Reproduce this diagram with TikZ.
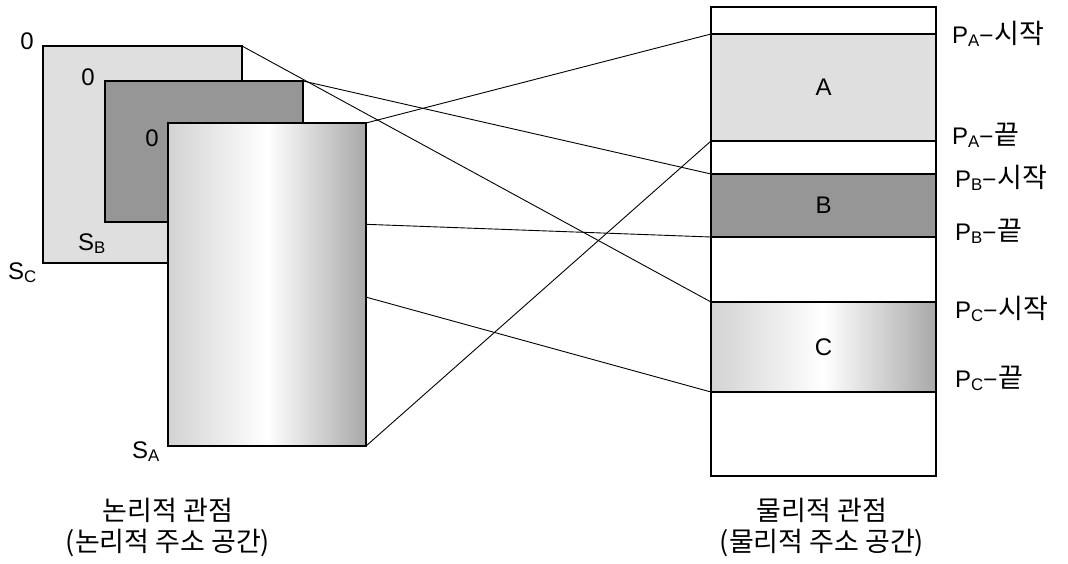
\documentclass[tikz,border=0pt]{standalone}
\usepackage{fontspec}
\setmainfont{Liberation Sans}
\newfontfamily\kr{Noto Sans CJK KR}
\newcommand\krbig{\kr\fontsize{27}{30}\selectfont}
\usetikzlibrary{calc}
\tikzset{seg/.style={draw, line width=2pt, inner sep=0pt, outer sep=0pt},
  grad/.style={left color=gray!35, right color=gray!68, middle color=white},
  link/.style={line width=0.9pt},
  lbl/.style={inner sep=0pt, font=\fontsize{24}{28}\selectfont},
  caption/.style={inner sep=0pt, align=center, font=\kr\fontsize{27}{31}\selectfont}}

\begin{document}
\begin{tikzpicture}[x=1pt, y=-1pt]
  \useasboundingbox (0,0) rectangle (1068,563);
  % logical view: segments C and B behind A
  \node[seg, fill=gray!25, minimum width=199, minimum height=217] (sc) at (142.5,154.5) {};
  \node[seg, fill=gray!82, minimum width=198, minimum height=141] (sb) at (204,151.5) {};
  % physical memory
  \node[seg, minimum width=225, minimum height=469] (phys) at (823.5,241.5) {};
  \node[seg, lbl, fill=gray!25, minimum width=225, minimum height=107] (pa) at (823.5,87.5) {A};
  \node[seg, lbl, fill=gray!82, minimum width=225, minimum height=63] (pb) at (823.5,205.5) {B};
  \node[seg, lbl, grad, minimum width=225, minimum height=90] (pc) at (823.5,347) {C};
  % mapping of C and B (under A)
  \draw[link] (sc.north east) -- (pc.north west);
  \draw[link] (sc.south east) -- (pc.south west);
  \draw[link] (sb.north east) -- (pb.north west);
  \draw[link] (sb.south east) -- (pb.south west);
  \node[seg, grad, minimum width=198, minimum height=323] (sa) at (267,284.5) {};
  \draw[link] (sa.north east) -- (pa.north west);
  \draw[link] (sa.south east) -- (pa.south west);
  % origins and sizes
  \node[lbl] (sc0) at ($(sc.north west)+(-16,-5)$) {0};
  \node[lbl] (sb0) at ($(sb.north west)+(-17,-4)$) {0};
  \node[lbl] (sa0) at ($(sa.north west)+(-16,15)$) {0};
  \node[lbl, anchor=base west] (scs) at (8,279) {S\textsubscript{C}};
  \node[lbl, anchor=base west] (sbs) at (78,250) {S\textsubscript{B}};
  \node[lbl, anchor=base west] (sas) at (132,458) {S\textsubscript{A}};
  % start / end marks
  \node[lbl, anchor=base west] (pas) at (952,43) {P\textsubscript{A}\krbig–시작};
  \node[lbl, anchor=base west] (pae) at (952,144) {P\textsubscript{A}\krbig–끝};
  \node[lbl, anchor=base west] (pbs) at (955,187) {P\textsubscript{B}\krbig–시작};
  \node[lbl, anchor=base west] (pbe) at (955,240) {P\textsubscript{B}\krbig–끝};
  \node[lbl, anchor=base west] (pcs) at (955,318) {P\textsubscript{C}\krbig–시작};
  \node[lbl, anchor=base west] (pce) at (955,387) {P\textsubscript{C}\krbig–끝};
  % captions
  \node[caption] (logcap) at (168,527) {논리적 관점\\(논리적 주소 공간)};
  \node[caption] (phycap) at (822,527) {물리적 관점\\(물리적 주소 공간)};
\end{tikzpicture}
\end{document}
